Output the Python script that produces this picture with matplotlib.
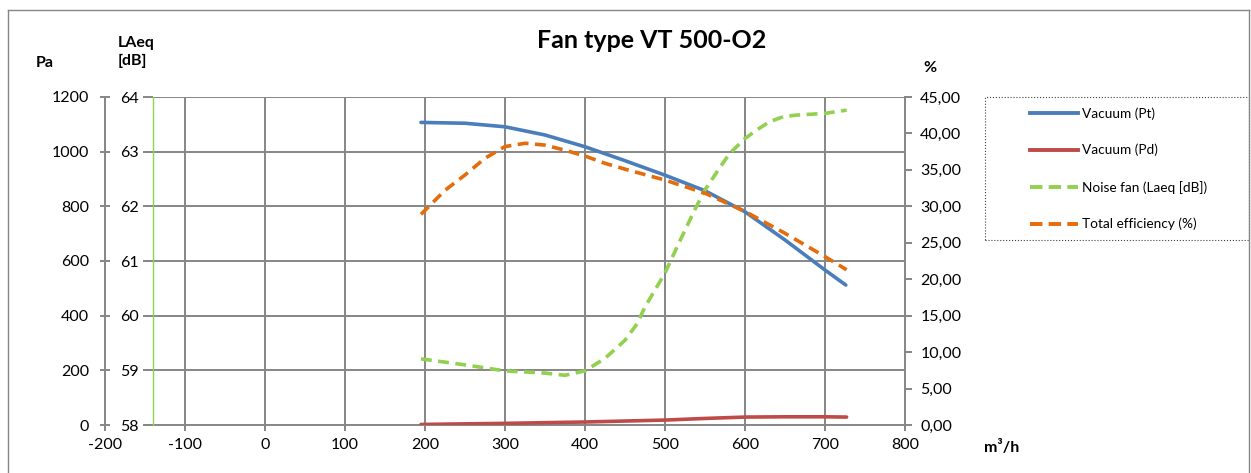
import matplotlib.pyplot as plt
from matplotlib.lines import Line2D
from matplotlib.patches import Rectangle
from matplotlib.ticker import FuncFormatter

plt.rcParams['font.family'] = ['Lato', 'DejaVu Sans']
plt.rcParams['axes.unicode_minus'] = False

# air flow (m3/h) and the values
flow_pt = [195, 250, 300, 350, 400, 450, 500, 550, 600, 650, 700, 726]
vac_pt = [1107, 1104, 1091, 1061, 1018, 967, 914, 857, 780, 677, 567, 512]

flow_pd = [195, 300, 400, 500, 550, 600, 650, 700, 727]
vac_pd = [2, 6, 11, 18, 24, 29, 30, 30, 29]

flow_noise = [195, 250, 300, 350, 375, 400, 425, 450, 465, 475, 500, 519, 537, 550,
              569, 581, 600, 615, 631, 648, 665, 700, 727]
noise = [59.21, 59.10, 58.99, 58.95, 58.91, 58.99, 59.22, 59.55, 59.85, 60.16, 60.78,
         61.38, 61.93, 62.30, 62.72, 62.97, 63.24, 63.40, 63.55, 63.64, 63.67, 63.70, 63.76]

flow_eff = [195, 225, 250, 275, 300, 325, 350, 375, 400, 425, 450, 500, 550, 600, 650,
            700, 727]
eff = [28.9, 32.2, 34.3, 36.6, 38.2, 38.65, 38.4, 37.7, 36.9, 35.9, 35.1, 33.6, 31.8,
       29.3, 26.3, 23.1, 21.3]

x_ticks = list(range(-200, 900, 100))
pa_ticks = list(range(0, 1400, 200))
db_ticks = list(range(58, 65))
pct_ticks = list(range(0, 50, 5))

grey = '#868686'
c_pt, c_pd, c_noise, c_eff = '#4A7EBB', '#BE4B48', '#92D050', '#E46C0A'

W, H = 1251, 473
fig = plt.figure(figsize=(W / 100, H / 100), dpi=100)
ax = fig.add_axes([105 / W, 48 / H, 800 / W, 328 / H])
ax.set_xlim(-200, 800)
ax.set_ylim(0, 1200)
ax.patch.set_visible(False)

# grid, drawn by hand because it starts right of the Pa axis
ax.hlines(pa_ticks[1:], -150, 800, color=grey, lw=1.4, zorder=1)
ax.vlines(x_ticks[1:-1], 0, 1200, color=grey, lw=1.4, zorder=1)

for s in ['top', 'right']:
    ax.spines[s].set_visible(False)
ax.spines['left'].set_color(grey)
ax.spines['left'].set_linewidth(1.4)
ax.spines['bottom'].set_color(grey)
ax.spines['bottom'].set_linewidth(1.4)
ax.spines['bottom'].set_bounds(-150, 800)
ax.set_xticks(x_ticks)
ax.set_yticks(pa_ticks)
ax.tick_params(axis='x', length=4, width=1.4, color=grey, pad=5, labelsize=11.5)
ax.tick_params(axis='y', direction='inout', length=7, width=1.4, color=grey, pad=8, labelsize=11.5)

# LAeq axis
ax2 = ax.twinx()
ax2.set_ylim(58, 64)
ax2.spines['right'].set_visible(False)
ax2.spines['top'].set_visible(False)
ax2.spines['bottom'].set_visible(False)
ax2.spines['left'].set_position(('data', -140))
ax2.spines['left'].set_color(c_noise)
ax2.spines['left'].set_linewidth(1.0)
ax2.yaxis.set_ticks_position('left')
ax2.set_yticks(db_ticks)
ax2.tick_params(axis='y', length=7, width=1.4, color=grey, pad=3, labelsize=11.5)

# % axis
ax3 = ax.twinx()
ax3.set_ylim(0, 45)
for s in ['left', 'top', 'bottom']:
    ax3.spines[s].set_visible(False)
ax3.spines['right'].set_color(grey)
ax3.spines['right'].set_linewidth(1.4)
ax3.set_yticks(pct_ticks)
ax3.yaxis.set_major_formatter(FuncFormatter(lambda v, p: f'{v:.2f}'.replace('.', ',')))
ax3.tick_params(axis='y', length=5, width=1.4, color=grey, pad=6, labelsize=11.5)

ax.plot(flow_pt, vac_pt, color=c_pt, lw=2.6, solid_capstyle='round',
        solid_joinstyle='round', zorder=5)
ax.plot(flow_pd, vac_pd, color=c_pd, lw=2.6, solid_capstyle='round', zorder=5)
ax2.plot(flow_noise, noise, color=c_noise, lw=2.6, dashes=(3, 1.8), zorder=5)
ax3.plot(flow_eff, eff, color=c_eff, lw=2.6, dashes=(3, 1.8), zorder=5)

fig.text(652 / W, 1 - 40 / H, 'Fan type VT 500-O2', ha='center', va='center',
         fontsize=18, fontweight='bold')
fig.text(45 / W, 1 - 63 / H, 'Pa', ha='center', va='center', fontsize=11.5, fontweight='bold')
fig.text(118 / W, 1 - 52 / H, 'LAeq\n[dB]', ha='left', va='center', fontsize=11.5,
         fontweight='bold', linespacing=1.3)
fig.text(930 / W, 1 - 68 / H, '%', ha='center', va='center', fontsize=11.5, fontweight='bold')
fig.text(1002 / W, 1 - 447 / H, 'm³/h', ha='center', va='center', fontsize=11.5, fontweight='bold')

handles = [
    Line2D([], [], color=c_pt, lw=2.8),
    Line2D([], [], color=c_pd, lw=2.8),
    Line2D([], [], color=c_noise, lw=2.8, dashes=(3.2, 1.6)),
    Line2D([], [], color=c_eff, lw=2.8, dashes=(3.2, 1.6)),
]
labels = ['Vacuum (Pt)', 'Vacuum (Pd)', 'Noise fan (Laeq [dB])', 'Total efficiency (%)']
fig.legend(handles, labels, loc='upper left', bbox_to_anchor=(1030 / W, 1 - 107 / H),
           frameon=False, fontsize=9.8, borderpad=0, borderaxespad=0,
           handlelength=3.5, handletextpad=0.3, labelspacing=1.78)
fig.add_artist(Rectangle((985 / W, 1 - 240 / H), 264 / W, 143 / H, transform=fig.transFigure,
                         fill=False, ec='#404040', lw=0.8, ls=':'))

# chart border
fig.add_artist(Line2D([8 / W, 8 / W], [0, 1 - 10 / H], transform=fig.transFigure, color=grey, lw=1))
fig.add_artist(Line2D([8 / W, 1249 / W], [1 - 10 / H, 1 - 10 / H], transform=fig.transFigure,
                      color=grey, lw=1))
fig.add_artist(Line2D([1249 / W, 1249 / W], [0, 1 - 10 / H], transform=fig.transFigure,
                      color=grey, lw=1))

fig.savefig('out.png', dpi=100)
